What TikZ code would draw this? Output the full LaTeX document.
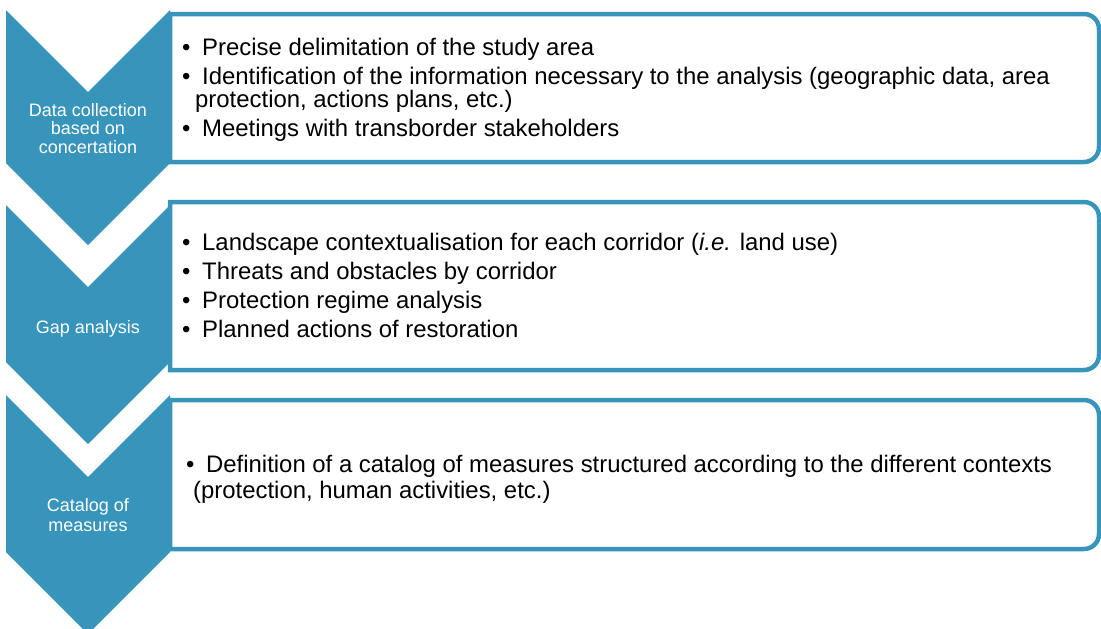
\documentclass[tikz,border=0pt]{standalone}
\usepackage{fontspec}
\setmainfont{Liberation Sans}
\definecolor{stepblue}{RGB}{55,148,187}
\begin{document}
\begin{tikzpicture}[x=1pt,y=-1pt,
  panel/.style={draw=stepblue, line width=4.5pt, fill=white},
  chevron/.style={fill=stepblue, draw=none},
  steplabel/.style={anchor=base, inner sep=0pt, text=white, font=\fontsize{18}{18}\selectfont},
  item/.style={anchor=base west, inner sep=0pt, font=\fontsize{23.9}{24}\selectfont},
  bul/.style={item}]
\useasboundingbox (0,0) rectangle (1101,629);
\clip (0,0) rectangle (1101,629);

% text panels, square on the left, rounded on the right
\foreach \t/\b in {14/162, 202/370, 400/549}{
  \draw[panel] (170,\t) -- (1084,\t) arc[start angle=-90, end angle=0, radius=15]
    -- (1099,\b-15) arc[start angle=0, end angle=90, radius=15] -- (170,\b) -- cycle;
}

% chevrons
\foreach \t/\b in {10/163, 205/362, 395/552}{
  \fill[chevron] (6,\t) -- (88,\t+82) -- (170,\t) -- (170,\b) -- (88,\b+82) -- (6,\b) -- cycle;
}

% step labels
\node[steplabel] (s1a) at (88,116) {Data collection};
\node[steplabel] (s1b) at (88,134) {based on};
\node[steplabel] (s1c) at (88,153) {concertation};
\node[steplabel] (s2a) at (88,333) {Gap analysis};
\node[steplabel] (s3a) at (88,511) {Catalog of};
\node[steplabel] (s3b) at (88,531) {measures};

% first panel
\node[bul] (b11) at (182,55) {•};
\node[item] (t11) at (202,55) {Precise delimitation of the study area};
\node[bul] (b12) at (182,84) {•};
\node[item] (t12) at (202,84) {Identification of the information necessary to the analysis (geographic data, area};
\node[item] (t12b) at (195,107) {protection, actions plans, etc.)};
\node[bul] (b13) at (182,136) {•};
\node[item] (t13) at (202,136) {Meetings with transborder stakeholders};

% second panel
\node[bul] (b21) at (182,250) {•};
\node[item] (t21) at (202,250) {Landscape contextualisation for each corridor (\textit{i.e.} land use)};
\node[bul] (b22) at (182,279) {•};
\node[item] (t22) at (202,279) {Threats and obstacles by corridor};
\node[bul] (b23) at (182,308) {•};
\node[item] (t23) at (202,308) {Protection regime analysis};
\node[bul] (b24) at (182,337) {•};
\node[item] (t24) at (202,337) {Planned actions of restoration};

% third panel
\node[bul] (b31) at (186,472) {•};
\node[item] (t31) at (206,472) {Definition of a catalog of measures structured according to the different contexts};
\node[item] (t31b) at (193,498) {(protection, human activities, etc.)};
\end{tikzpicture}
\end{document}
